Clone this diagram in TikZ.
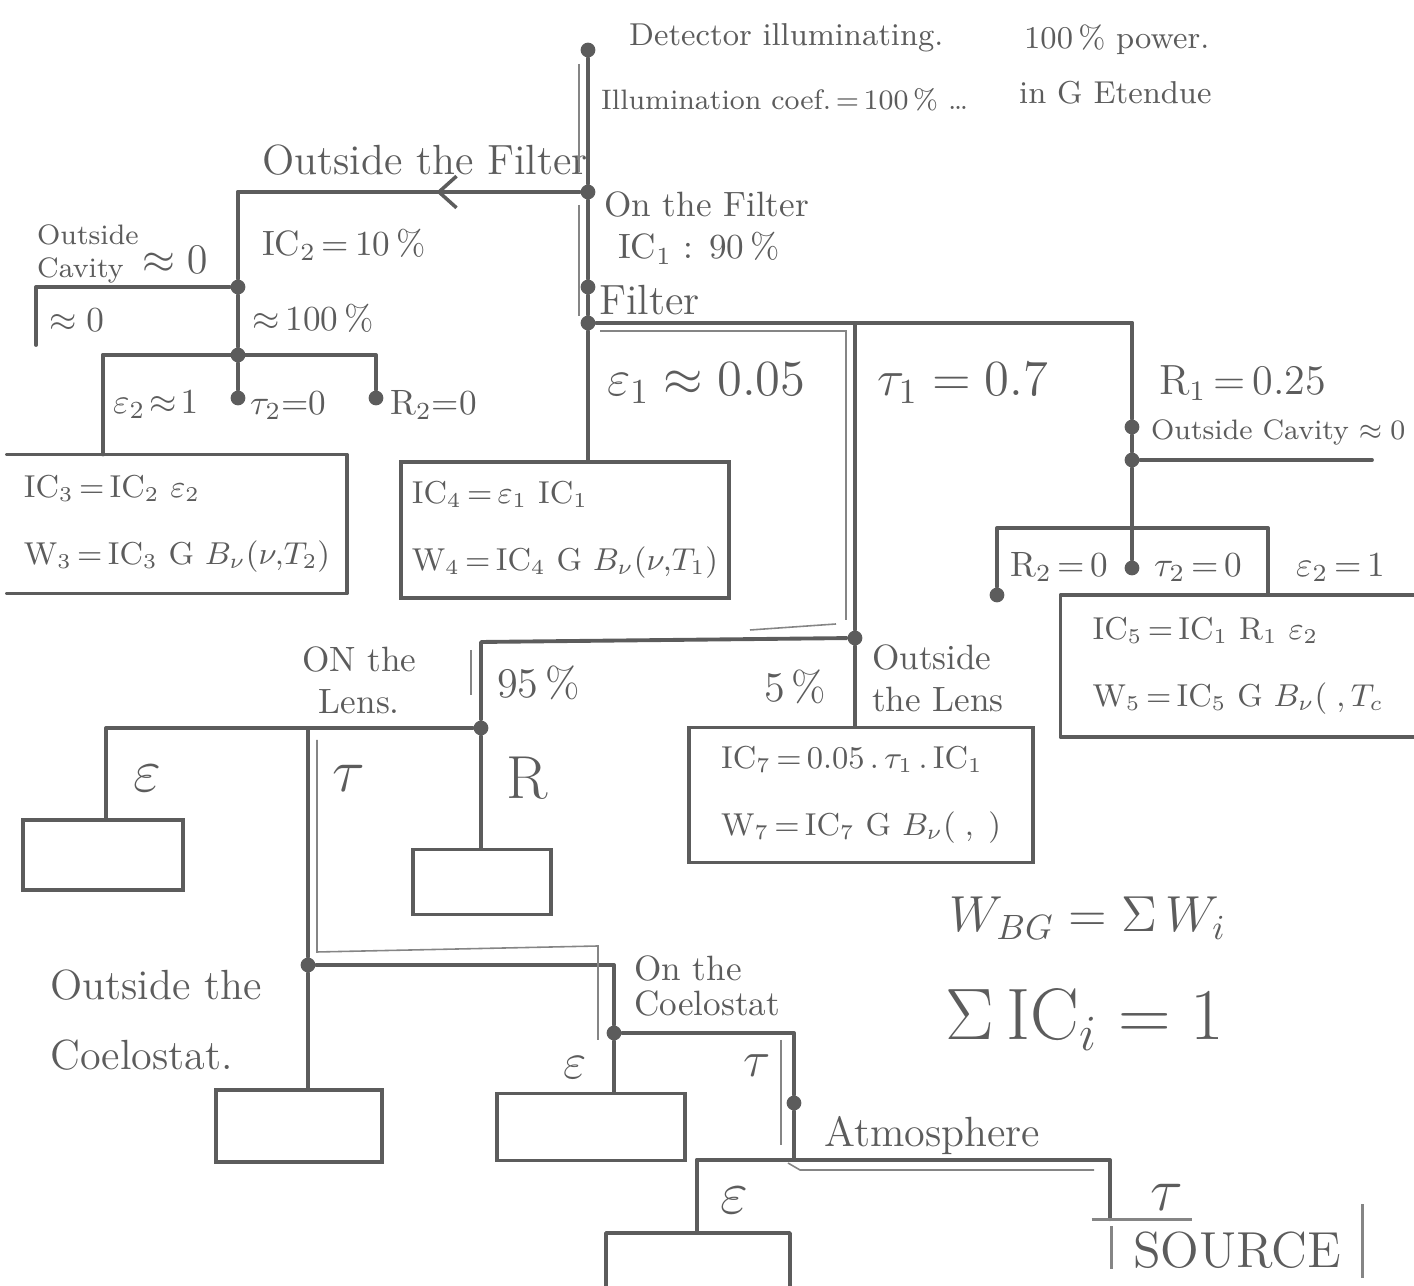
\documentclass[tikz,border=0pt]{standalone}
\usepackage{amsmath,amssymb}
\usetikzlibrary{positioning,calc,decorations.markings,arrows.meta}

\definecolor{ink}{RGB}{92,92,92}

\begin{document}
\begin{tikzpicture}[
    x=0.01cm, y=-0.01cm,
    every node/.style={text=ink, font=\large},
    wire/.style={draw=ink, line width=1.1pt, line cap=round, line join=round},
    trace/.style={draw=ink!75, line width=0.45pt},
    junction/.style={circle, fill=ink, inner sep=0pt, minimum size=4.2pt},
    result/.style={rectangle, draw=ink, line width=1.1pt, align=left, font=\small, inner xsep=3pt, inner ysep=3pt},
    stub/.style={rectangle, draw=ink, line width=1.1pt, inner sep=0pt},
    lbl/.style={anchor=west, inner sep=1pt},
    flowarrow/.style={postaction={decorate}, decoration={markings,
        mark=at position 0.42 with {\arrow[ink, line width=1pt]{Straight Barb[length=5pt, width=9pt]}}}},
]
\useasboundingbox (0,0) rectangle (1414,1286);

% trunk: detector down to the filter
\node[junction] (det) at (588,50) {};
\node[junction] (onf) at (588,192) {};
\node[junction] (filin) at (588,287) {};
\node[junction] (fil) at (588,323) {};
\draw[wire] (det) -- (onf) -- (filin) -- (fil);
\node[lbl, font=\small] (detlbl) at (625,38) {Detector illuminating.};
\node[lbl, font=\small] (powlbl) at (1020,40) {100\,\% power.};
\node[lbl, font=\footnotesize] (coeflbl) at (597,100) {Illumination coef.\,=\,100\,\% \dots};
\node[lbl, font=\small] (etlbl) at (1015,93) {in G Etendue};
\node[lbl, align=left, font=\normalsize] (onflbl) at (600,228) {On the Filter\\\hspace*{4pt}IC$_1$ : 90\,\%};
\node[lbl] (fillbl) at (595,300) {Filter};

% outside the filter
\coordinate (outf) at (238,192);
\node[junction] (cav) at (238,287) {};
\node[junction] (sp2) at (238,355) {};
\coordinate (cavl) at (36,287);
\coordinate (cavle) at (36,345);
\draw[wire, flowarrow] (onf) -- (outf);
\draw[wire] (outf) -- (cav) -- (sp2);
\draw[wire] (cav) -- (cavl) -- (cavle);
\node[lbl] (outflbl) at (258,160) {Outside the Filter};
\node[lbl, font=\normalsize] (ic2lbl) at (258,245) {IC$_2$\,=\,10\,\%};
\node[lbl, align=left, font=\footnotesize] (cavlbl) at (33,254) {Outside\\Cavity};
\node[lbl] (cav0lbl) at (138,260) {$\approx 0$};
\node[lbl, font=\normalsize] (cav0blbl) at (45,320) {$\approx 0$};
\node[lbl, font=\normalsize] (c100lbl) at (248,318) {$\approx$\,100\,\%};

\coordinate (e2) at (103,355);
\coordinate (r2) at (376,355);
\node[junction] (t2e) at (238,398) {};
\node[junction] (r2e) at (376,398) {};
\node[result, draw=none, minimum width=3.36cm, minimum height=1.35cm] (ic3) at (177,524)
    {IC$_3$\,=\,IC$_2$ $\varepsilon_2$\\[8pt] W$_3$\,=\,IC$_3$ G $B_\nu(\nu,\!T_2)$};
\draw[wire] (e2) -- (r2) -- (r2e);
\draw[wire] (sp2) -- (t2e);
\draw[wire] (e2) -- (e2 |- ic3.north);
\draw[wire] (ic3.north west) -- (ic3.north east) -- (ic3.south east) -- (ic3.south west);
\node[lbl, font=\normalsize] (e2lbl) at (109,405) {$\varepsilon_2\!\approx\!1$};
\node[lbl, font=\normalsize] (t2lbl) at (246,405) {$\tau_2$=0};
\node[lbl, font=\normalsize] (r2lbl) at (386,405) {R$_2$=0};

% on the filter
\coordinate (t1) at (855,323);
\coordinate (r1) at (1132,323);
\node[result, minimum width=3.10cm, minimum height=1.36cm] (ic4) at (565,530)
    {IC$_4$\,=\,$\varepsilon_1$ IC$_1$\\[8pt] W$_4$\,=\,IC$_4$ G $B_\nu(\nu,\!T_1)$};
\node[junction] (lensj) at (855,638) {};
\draw[wire] (fil) -- (r1);
\draw[wire] (fil) -- (fil |- ic4.north);
\draw[wire] (t1) -- (lensj);
\node[lbl, font=\Large] (e1lbl) at (603,383) {$\varepsilon_1 \approx 0.05$};
\node[lbl, font=\Large] (t1lbl) at (873,383) {$\tau_1 = 0.7$};
\node[lbl] (r1lbl) at (1155,383) {R$_1$\,=\,0.25};

% reflection off the filter
\node[junction] (cav1a) at (1132,427) {};
\node[junction] (cav1b) at (1132,460) {};
\coordinate (cav1r) at (1372,460);
\coordinate (sp5) at (1132,528);
\coordinate (r5) at (997,528);
\coordinate (e5) at (1268,528);
\node[junction] (r5e) at (997,595) {};
\node[junction] (t5e) at (1132,568) {};
\node[result, draw=none, minimum width=3.51cm, minimum height=1.38cm] (ic5) at (1238,666)
    {IC$_5$\,=\,IC$_1$ R$_1$ $\varepsilon_2$\\[8pt] W$_5$\,=\,IC$_5$ G $B_\nu(\;,T_c$};
\draw[wire] (r1) -- (cav1a) -- (cav1b) -- (sp5);
\draw[wire] (cav1b) -- (cav1r);
\draw[wire] (r5e) -- (r5) -- (e5) -- (e5 |- ic5.north);
\draw[wire] (sp5) -- (t5e);
\draw[wire] (ic5.north east) -- (ic5.north west) -- (ic5.south west) -- (ic5.south east);
\node[lbl, font=\footnotesize] (cav1lbl) at (1147,432) {Outside Cavity $\approx 0$};
\node[lbl, font=\normalsize] (r5lbl) at (1006,567) {R$_2$\,=\,0};
\node[lbl, font=\normalsize] (t5lbl) at (1150,567) {$\tau_2$\,=\,0};
\node[lbl, font=\normalsize] (e5lbl) at (1292,567) {$\varepsilon_2$\,=\,1};

% the lens
\coordinate (lensl) at (481,642);
\node[junction] (lensd) at (481,728) {};
\node[result, minimum width=3.44cm, minimum height=1.35cm] (ic7) at (861,795)
    {IC$_7$\,=\,0.05\,.\,$\tau_1$\,.\,IC$_1$\\[8pt] W$_7$\,=\,IC$_7$ G $B_\nu(\;,\;)$};
\draw[wire] (lensj) -- (lensl) -- (lensd);
\draw[wire] (lensj) -- (lensj |- ic7.north);
\node[lbl, font=\normalsize, align=center] (onllbl) at (298,680) {ON the\\Lens.};
\node[lbl] (p95lbl) at (493,683) {95\,\%};
\node[lbl] (p5lbl) at (760,687) {5\,\%};
\node[lbl, align=left, font=\normalsize] (outllbl) at (868,678) {Outside\\the Lens};

\coordinate (lense) at (106,728);
\coordinate (lenst) at (308,728);
\node[stub, minimum width=1.60cm, minimum height=0.70cm] (epsbox) at (103,855) {};
\node[stub, minimum width=1.38cm, minimum height=0.65cm] (rbox) at (482,882) {};
\node[junction] (coel) at (308,965) {};
\draw[wire] (lensd) -- (lense) -- (lense |- epsbox.north);
\draw[wire] (lenst) -- (coel);
\draw[wire] (lensd) -- (lensd |- rbox.north);
\node[font=\LARGE] (elbl) at (147,778) {$\varepsilon$};
\node[font=\LARGE] (tlbl) at (349,778) {$\tau$};
\node[font=\LARGE] (rlbl) at (527,778) {R};

% the coelostat
\coordinate (coelr) at (614,965);
\node[junction] (coelon) at (614,1033) {};
\coordinate (coelt) at (794,1033);
\node[junction] (atmd) at (794,1103) {};
\coordinate (atm) at (794,1160);
\node[stub, minimum width=1.66cm, minimum height=0.72cm] (ocbox) at (299,1126) {};
\node[stub, minimum width=1.88cm, minimum height=0.67cm] (cebox) at (591,1127) {};
\draw[wire] (coel) -- (coelr) -- (coelon) -- (coelt) -- (atmd) -- (atm);
\draw[wire] (coel) -- (coel |- ocbox.north);
\draw[wire] (coelon) -- (coelon |- cebox.north);
\node[lbl, align=left] (oclbl) at (46,1020) {Outside the\\[6pt]Coelostat.};
\node[lbl, align=left, font=\normalsize] (onclbl) at (630,986) {On the\\[-2pt]Coelostat};
\node[font=\Large] (celbl) at (575,1068) {$\varepsilon$};
\node[font=\Large] (ctlbl) at (757,1066) {$\tau$};

% the atmosphere and the source
\coordinate (atml) at (697,1160);
\coordinate (atmr) at (1110,1160);
\node[stub, draw=none, minimum width=1.80cm, minimum height=0.50cm] (aebox) at (698,1260) {};
\node[font=\Large, minimum width=2.49cm, minimum height=0.50cm] (source) at (1237,1250) {SOURCE};
\draw[wire] (atml) -- (atmr) -- (atmr |- source.north);
\draw[wire] (atml) -- (atml |- aebox.north);
\draw[wire] (aebox.south west) -- (aebox.north west) -- (aebox.north east) -- (aebox.south east);
\draw[trace, line width=0.8pt] ([xshift=-0.2cm]source.north west) -- ([xshift=-1.7cm]source.north east);
\draw[trace, line width=0.8pt] ([yshift=-0.07cm]source.north west) -- ([yshift=0.12cm]source.south west);
\draw[trace, line width=0.8pt] ([yshift=0.15cm]source.north east) -- ([yshift=0.03cm]source.south east);
\node[lbl] (atmlbl) at (820,1136) {Atmosphere};
\node[font=\LARGE] (aelbl) at (734,1200) {$\varepsilon$};
\node[font=\LARGE] (stlbl) at (1167,1197) {$\tau$};

% sums
\node[font=\Large] (wbg) at (1088,918) {$W_{BG} = \Sigma\, W_i$};
\node[font=\huge] (sumic) at (1085,1020) {$\Sigma\, \mathrm{IC}_i = 1$};

% pencil traces of the transmitted path
\draw[trace] (579,64) -- (579,172);
\draw[trace] (579,205) -- (579,316);
\draw[trace] (600,331) -- (846,331) -- (846,620);
\draw[trace] (750,630) -- (836,624);
\draw[trace] (471,650) -- (471,695);
\draw[trace] (317,740) -- (317,952) -- (598,946) -- (598,1040);
\draw[trace] (781,1040) -- (781,1145);
\draw[trace] (788,1163) -- (800,1170) -- (1094,1170);
\end{tikzpicture}
\end{document}
